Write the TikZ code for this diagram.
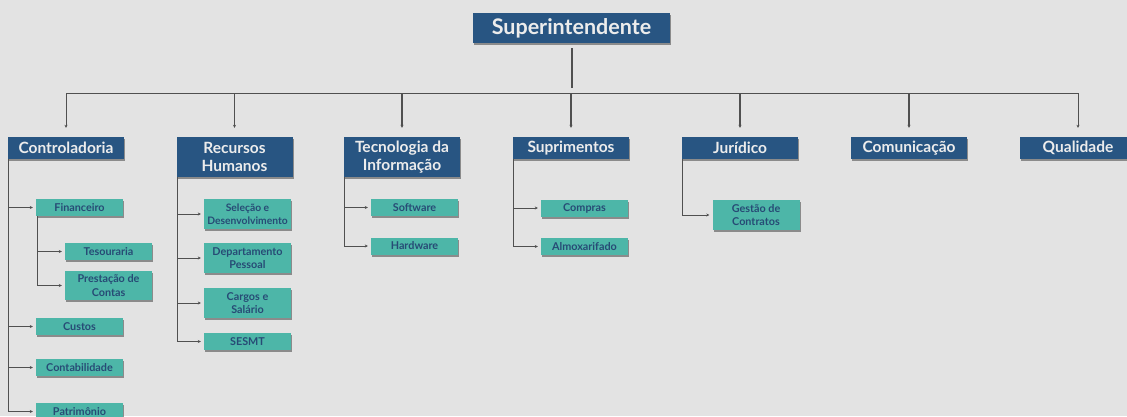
\documentclass[tikz,border=0pt]{standalone}
\usepackage{fontspec}
\setmainfont{Lato}
\usepackage{tikz}
\usetikzlibrary{arrows.meta}
\usetikzlibrary{positioning}
\usetikzlibrary{shadows}
\definecolor{hdblue}{HTML}{285582}
\definecolor{hdtext}{HTML}{ECECEC}
\definecolor{teal}{HTML}{4DB6A8}
\definecolor{navy}{HTML}{274B75}
\definecolor{paper}{HTML}{E3E3E3}
\definecolor{wire}{HTML}{505050}
\tikzstyle{head}=[fill=hdblue,text=hdtext,minimum width=116pt,minimum height=22pt,inner sep=1pt,align=center,font=\fontsize{15.5}{18}\selectfont\bfseries,drop shadow={shadow xshift=1pt,shadow yshift=-2pt,fill=black!60,opacity=.7}]
\tikzstyle{unit}=[fill=teal,text=navy,minimum width=87pt,minimum height=17pt,inner sep=1pt,align=center,font=\fontsize{10.8}{13.5}\selectfont\bfseries,drop shadow={shadow xshift=1pt,shadow yshift=-2pt,fill=black!60,opacity=.7}]
\tikzstyle{link}=[draw=wire,line width=0.8pt,-{Stealth[length=3pt,width=3pt]},shorten >=3pt]

\begin{document}
\begin{tikzpicture}[x=1pt,y=-1pt]
\useasboundingbox (0,0) rectangle (1127,416);
\clip (0,0) rectangle (1127,416);
\fill[paper] (0,0) rectangle (1127,416);

\node [head,minimum width=197pt,minimum height=30pt,font=\fontsize{21.5}{24}\selectfont\bfseries] (sup) at (571.5,28) {Superintendente};

\node [head] (ctrl) at (66,148) {Controladoria};
\node [head,minimum height=40pt] (rh) at (234.5,157) {Recursos\\Humanos};
\node [head,minimum height=40pt] (ti) at (402,157) {Tecnologia da\\Informação};
\node [head] (supr) at (571,148) {Suprimentos};
\node [head] (jur) at (740,148) {Jurídico};
\node [head] (com) at (909,148) {Comunicação};
\node [head] (qual) at (1078,148) {Qualidade};

\node [unit] (fin) at (79.5,207.5) {Financeiro};
\node [unit] (tes) at (108.5,251.5) {Tesouraria};
\node [unit,minimum height=29pt] (pre) at (108.5,285.5) {Prestação de\\Contas};
\node [unit] (cus) at (79.5,326.5) {Custos};
\node [unit] (cont) at (79.5,367.5) {Contabilidade};
\node [unit] (pat) at (79.5,411.5) {Patrimônio};

\node [unit,minimum height=30pt,font=\fontsize{10.3}{12.5}\selectfont\bfseries] (sel) at (247.5,214) {Seleção e\\Desenvolvimento};
\node [unit,minimum height=30pt] (dep) at (247.5,258) {Departamento\\Pessoal};
\node [unit,minimum height=30pt] (car) at (247.5,303) {Cargos e\\Salário};
\node [unit] (ses) at (247.5,341.5) {SESMT};

\node [unit] (sw) at (414.5,207.5) {Software};
\node [unit] (hw) at (414.5,246) {Hardware};

\node [unit] (comp) at (584.5,208) {Compras};
\node [unit] (alm) at (584.5,246.5) {Almoxarifado};

\node [unit,minimum height=30pt] (gest) at (756,215) {Gestão de\\Contratos};

% barramento
\coordinate (b1) at (66,93);
\coordinate (b7) at (1078,93);
\coordinate (bs) at (571.5,93);
\draw [wire,line width=2pt,shorten <=5pt,shorten >=5pt] (sup.south) -- (bs);
\draw [wire,line width=0.8pt] (b1) -- (b7);
\foreach \n/\w in {ctrl/0.8pt,rh/1.4pt,ti/2pt,supr/2pt,jur/1.2pt,com/2pt,qual/0.8pt}
  \draw [link,line width=\w,shorten >=9pt] (b1 -| \n.north) -- (\n.north);

% ramos
\foreach \c in {fin,cus,cont,pat}
  \draw [link] ([xshift=1pt]ctrl.south west) |- (\c.west);
\foreach \c in {tes,pre}
  \draw [link] ([xshift=2pt]fin.south west) |- (\c.west);
\foreach \c in {sel,dep,car,ses}
  \draw [link] ([xshift=1pt]rh.south west) |- (\c.west);
\foreach \c in {sw,hw}
  \draw [link] ([xshift=1pt]ti.south west) |- (\c.west);
\foreach \c in {comp,alm}
  \draw [link] ([xshift=1pt]supr.south west) |- (\c.west);
\draw [link] ([xshift=1pt]jur.south west) |- (gest.west);
\end{tikzpicture}
\end{document}
